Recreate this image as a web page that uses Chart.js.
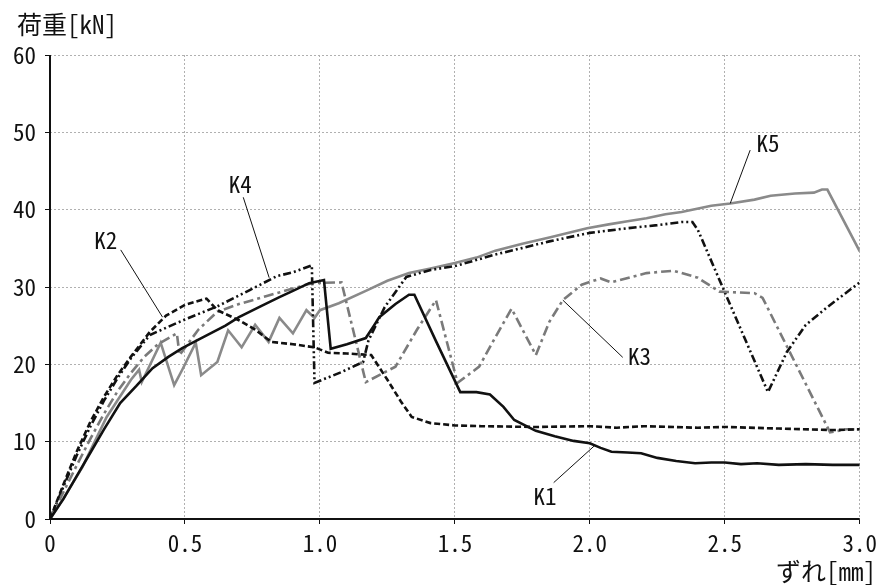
<!DOCTYPE html>
<html>
<head>
<meta charset="utf-8">
<script src="https://cdn.jsdelivr.net/npm/chart.js@4/dist/chart.umd.min.js"></script>
<style>
  html, body { margin: 0; padding: 0; background: #fff; }
  #wrap { width: 882px; height: 585px; position: relative; }
</style>
</head>
<body>
<div id="wrap"><canvas id="chart"></canvas></div>
<script>
// ずれ[mm] / 荷重[kN] for each specimen
var k1X = [0, 0.05, 0.10, 0.15, 0.20, 0.26, 0.32, 0.38, 0.44, 0.49, 0.55, 0.60, 0.65, 0.70, 0.78, 0.85, 0.90, 0.96, 1.015, 1.04, 1.10, 1.17, 1.20, 1.22, 1.28, 1.33, 1.35, 1.43, 1.52, 1.58, 1.63, 1.68, 1.72, 1.80, 1.87, 1.94, 2.00, 2.04, 2.08, 2.14, 2.19, 2.25, 2.32, 2.39, 2.45, 2.50, 2.56, 2.62, 2.70, 2.80, 2.90, 3.00];
var k1Y = [0, 2.6, 5.6, 8.6, 11.6, 15.0, 17.2, 19.5, 21.0, 22.1, 23.2, 24.1, 25.0, 26.1, 27.5, 28.7, 29.5, 30.5, 30.9, 22.0, 22.6, 23.4, 25.0, 26.1, 27.8, 29.0, 29.0, 23.0, 16.4, 16.4, 16.1, 14.5, 12.8, 11.4, 10.7, 10.1, 9.8, 9.2, 8.7, 8.6, 8.5, 7.9, 7.5, 7.2, 7.3, 7.3, 7.1, 7.2, 7.0, 7.1, 7.0, 7.0];

var k2X = [0, 0.05, 0.10, 0.15, 0.20, 0.25, 0.30, 0.37, 0.43, 0.50, 0.58, 0.62, 0.70, 0.76, 0.82, 0.90, 0.98, 1.03, 1.10, 1.19, 1.25, 1.30, 1.34, 1.41, 1.50, 1.60, 1.80, 2.00, 2.10, 2.20, 2.40, 2.50, 2.70, 2.90, 3.00];
var k2Y = [0, 4.5, 8.8, 12.6, 15.8, 18.6, 21.0, 24.2, 26.3, 27.7, 28.5, 27.0, 25.7, 24.5, 22.9, 22.6, 22.2, 21.5, 21.4, 21.2, 18.0, 15.2, 13.2, 12.4, 12.1, 12.0, 11.9, 12.0, 11.8, 12.0, 11.8, 11.9, 11.7, 11.5, 11.6];

var k3X = [0, 0.05, 0.10, 0.15, 0.20, 0.25, 0.30, 0.35, 0.40, 0.47, 0.48, 0.55, 0.62, 0.70, 0.80, 0.90, 0.97, 1.08, 1.17, 1.28, 1.36, 1.43, 1.51, 1.59, 1.65, 1.71, 1.80, 1.85, 1.90, 1.97, 2.04, 2.08, 2.21, 2.31, 2.40, 2.48, 2.61, 2.64, 2.89, 2.95, 3.00];
var k3Y = [0, 3.5, 7.0, 10.4, 13.6, 16.5, 18.9, 21.0, 22.6, 24.0, 21.2, 24.5, 26.8, 27.8, 28.8, 29.8, 30.5, 30.6, 17.7, 19.7, 24.5, 28.3, 17.6, 19.7, 23.5, 27.2, 21.2, 25.5, 28.3, 30.3, 31.1, 30.6, 31.8, 32.1, 31.2, 29.4, 29.2, 28.6, 11.2, 11.6, 11.6];

var k4X = [0, 0.05, 0.10, 0.15, 0.20, 0.25, 0.30, 0.37, 0.50, 0.62, 0.74, 0.84, 0.90, 0.97, 0.98, 1.08, 1.16, 1.18, 1.24, 1.32, 1.41, 1.50, 1.65, 1.85, 2.00, 2.14, 2.25, 2.34, 2.38, 2.40, 2.66, 2.73, 2.80, 2.88, 3.00];
var k4Y = [0, 4.2, 8.3, 12.0, 15.3, 18.2, 20.8, 23.8, 25.8, 27.5, 29.6, 31.4, 31.9, 32.8, 17.6, 19.0, 20.3, 23.1, 27.4, 31.3, 32.2, 32.7, 34.2, 35.9, 37.0, 37.6, 38.0, 38.4, 38.4, 37.4, 16.4, 21.6, 25.1, 27.4, 30.6];

var k5X = [0, 0.05, 0.12, 0.21, 0.30, 0.33, 0.34, 0.41, 0.46, 0.49, 0.54, 0.56, 0.62, 0.66, 0.71, 0.76, 0.81, 0.85, 0.90, 0.95, 0.98, 1.00, 1.07, 1.17, 1.25, 1.33, 1.41, 1.50, 1.58, 1.65, 1.75, 1.85, 1.99, 2.07, 2.14, 2.21, 2.28, 2.34, 2.45, 2.52, 2.61, 2.67, 2.76, 2.83, 2.86, 2.88, 3.00];
var k5Y = [0, 2.7, 6.7, 13.2, 18.0, 19.3, 17.7, 22.8, 17.3, 19.3, 22.8, 18.6, 20.3, 24.4, 22.2, 25.1, 22.9, 26.0, 24.0, 27.0, 26.0, 27.0, 27.9, 29.5, 30.8, 31.8, 32.4, 33.1, 33.8, 34.7, 35.6, 36.4, 37.6, 38.1, 38.5, 38.9, 39.4, 39.7, 40.5, 40.8, 41.3, 41.8, 42.1, 42.2, 42.6, 42.6, 34.6];

var seriesNames = ['K1', 'K2', 'K3', 'K4', 'K5'];
var xTicks = [0, 0.5, 1.0, 1.5, 2.0, 2.5, 3.0];
var yTicks = [0, 10, 20, 30, 40, 50, 60];

// name tags with a thin leader line, in data units
var callouts = [
    { text: 'K1', tx: 1.834, ty: 2.9, from: [1.866, 4.7], to: [2.018, 9.5] },
    { text: 'K2', tx: 0.207, ty: 36.0, from: [0.262, 34.8], to: [0.417, 26.1] },
    { text: 'K3', tx: 2.184, ty: 21.0, from: [2.122, 20.9], to: [1.900, 28.3] },
    { text: 'K4', tx: 0.705, ty: 43.3, from: [0.716, 41.6], to: [0.812, 31.2] },
    { text: 'K5', tx: 2.660, ty: 48.6, from: [2.594, 47.7], to: [2.520, 40.8] }
];

var FONT = '"Noto Sans Mono CJK JP", "Noto Sans CJK JP", sans-serif';

function toPoints(xs, ys) {
    return xs.map(function (x, i) { return { x: x, y: ys[i] }; });
}

var styles = [
    { color: '#111', dash: [] },
    { color: '#111', dash: [6, 3] },
    { color: '#7a7a7a', dash: [10, 4, 3, 4] },
    { color: '#111', dash: [8, 3, 2, 3, 2, 3] },
    { color: '#8a8a8a', dash: [] }
];

var pairs = [[k1X, k1Y], [k2X, k2Y], [k3X, k3Y], [k4X, k4Y], [k5X, k5Y]];

var datasets = pairs.map(function (p, i) {
    return {
        label: seriesNames[i],
        data: toPoints(p[0], p[1]),
        showLine: true,
        borderColor: styles[i].color,
        borderDash: styles[i].dash,
        borderWidth: 2.6,
        pointRadius: 0,
        tension: 0,
        fill: false
    };
});

const calloutPlugin = {
    id: 'callouts',
    afterDatasetsDraw(chart) {
        const ctx = chart.ctx;
        const xs = chart.scales.x, ys = chart.scales.y;
        ctx.save();
        ctx.strokeStyle = '#111';
        ctx.lineWidth = 1;
        ctx.fillStyle = '#111';
        ctx.font = '23px ' + FONT;
        ctx.textAlign = 'center';
        ctx.textBaseline = 'middle';
        callouts.forEach(function (c) {
            ctx.beginPath();
            ctx.moveTo(xs.getPixelForValue(c.from[0]), ys.getPixelForValue(c.from[1]));
            ctx.lineTo(xs.getPixelForValue(c.to[0]), ys.getPixelForValue(c.to[1]));
            ctx.stroke();
            ctx.fillText(c.text, xs.getPixelForValue(c.tx), ys.getPixelForValue(c.ty));
        });
        ctx.restore();
    }
};

// axis lines drawn solid on top of the dotted grid
const axisLines = {
    id: 'axisLines',
    afterDraw(chart) {
        const ctx = chart.ctx;
        const a = chart.chartArea;
        ctx.save();
        ctx.strokeStyle = '#111';
        ctx.lineWidth = 2;
        ctx.setLineDash([]);
        ctx.beginPath();
        ctx.moveTo(a.left, a.top);
        ctx.lineTo(a.left, a.bottom);
        ctx.lineTo(a.right, a.bottom);
        ctx.stroke();

        ctx.fillStyle = '#111';
        ctx.font = '25px ' + FONT;
        ctx.textBaseline = 'middle';
        ctx.textAlign = 'left';
        ctx.fillText('荷重[kN]', 17, 24);
        ctx.textAlign = 'right';
        ctx.fillText('ずれ[mm]', 876, 571);
        ctx.restore();
    }
};

let ctx = document.getElementById('chart').getContext('2d');

function gridOpts() {
    return {
        color: '#b0b0b0',
        lineWidth: 1,
        tickColor: '#111',
        tickBorderDash: [],
        tickLength: 5
    };
}

new Chart(ctx, {
    type: 'scatter',
    data: { datasets },
    plugins: [calloutPlugin, axisLines],
    options: {
        responsive: true,
        maintainAspectRatio: false,
        animation: false,
        layout: { padding: { top: 55, right: 19, left: 0, bottom: 0 } },
        plugins: {
            legend: { display: false },
            tooltip: { enabled: false }
        },
        scales: {
            x: {
                type: 'linear',
                min: 0,
                max: 3,
                afterFit(scale) { scale.height = 66; },
                afterBuildTicks(scale) {
                    scale.ticks = xTicks.map(function (v) { return { value: v }; });
                },
                ticks: {
                    color: '#111',
                    font: { family: FONT, size: 23 },
                    padding: 5,
                    maxRotation: 0,
                    callback(v) { return v === 0 ? '0' : v.toFixed(1); }
                },
                grid: gridOpts(),
                border: { display: false, dash: [2, 2] }
            },
            y: {
                type: 'linear',
                min: 0,
                max: 60,
                afterFit(scale) { scale.width = 50; },
                afterBuildTicks(scale) {
                    scale.ticks = yTicks.map(function (v) { return { value: v }; });
                },
                ticks: {
                    color: '#111',
                    font: { family: FONT, size: 23 },
                    padding: 9
                },
                grid: gridOpts(),
                border: { display: false, dash: [2, 2] }
            }
        }
    }
});
</script>
</body>
</html>
